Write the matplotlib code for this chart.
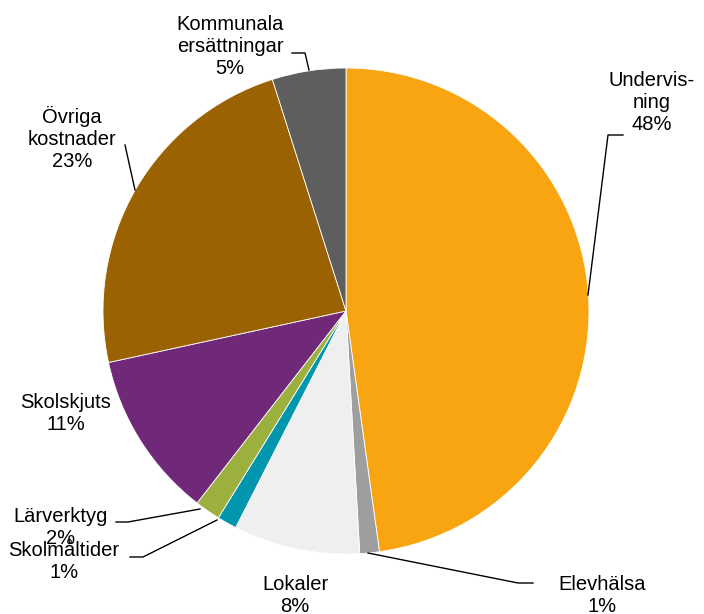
import matplotlib
matplotlib.use("Agg")
import matplotlib.pyplot as plt

# kostnadsandelar i procent, medurs från kl 12
labels = ["Undervis-\nning", "Elevhälsa", "Lokaler", "Skolmåltider", "Lärverktyg",
          "Skolskjuts", "Övriga\nkostnader", "Kommunala\nersättningar"]
values = [47.8, 1.3, 8.4, 1.3, 1.7, 11.1, 23.5, 4.9]
pct_text = ["48%", "1%", "8%", "1%", "2%", "11%", "23%", "5%"]
colors = ["#F9A512", "#9E9E9E", "#EFEFEF", "#0096AE", "#9CB13D",
          "#702878", "#9A6200", "#5E5E5E"]

plt.rcParams['font.family'] = ['Liberation Sans', 'DejaVu Sans']

W, H = 704, 614
fig = plt.figure(figsize=(W / 100, H / 100), dpi=100)
ax = fig.add_axes([0, 0, 1, 1])

cx, cy, r = 346, H - 311, 243
ax.pie(values, colors=colors, startangle=90, counterclock=False,
       center=(cx, cy), radius=r, frame=True,
       wedgeprops=dict(edgecolor="white", linewidth=0.6))
ax.set_xlim(0, W)
ax.set_ylim(0, H)
ax.axis("off")

# label placement (pixel coords, y from top)
text_pos = [(652, 102), (602, 596), (295, 596), (64, 562), (61, 527),
            (66, 413), (72, 138), (230, 47)]
# leader lines (pixel coords, y from top)
leaders = [
    [(623, 135), (608, 135), (588, 295)],
    [(533, 583), (518, 583), (368, 553)],
    None,
    [(130, 557), (143, 557), (217, 520)],
    [(116, 522), (128, 522), (200, 509)],
    None,
    [(125, 145), (135, 190)],
    [(292, 53), (305, 53), (309, 70)],
]

for lab, pct, (tx, ty), ld in zip(labels, pct_text, text_pos, leaders):
    ax.text(tx, H - ty, lab + "\n" + pct, ha="center", va="center",
            fontsize=14.5, linespacing=1.2, color="#000000")
    if ld:
        xs = [p[0] for p in ld]
        ys = [H - p[1] for p in ld]
        ax.plot(xs, ys, color="black", linewidth=1)

fig.savefig("out.png", dpi=100)
